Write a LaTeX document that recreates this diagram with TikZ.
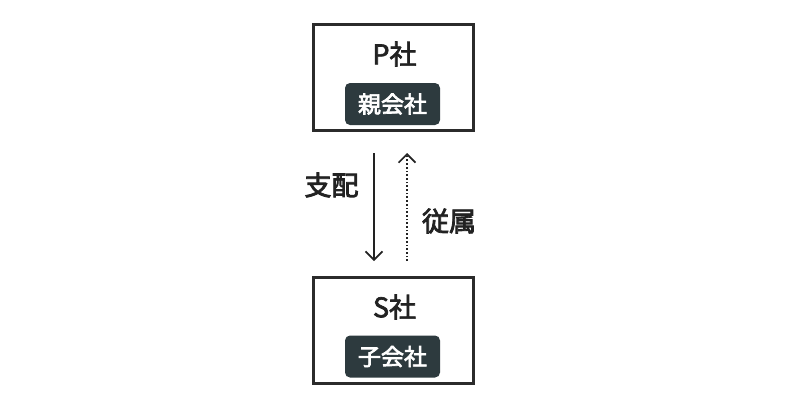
\documentclass[tikz,border=0pt]{standalone}
\usepackage{fontspec}
\setmainfont{Noto Sans CJK JP}
\newfontfamily\cjk{Noto Sans CJK JP}
\newfontfamily\cjkm{Noto Sans CJK JP}[FakeBold=3]
\newfontfamily\cjkt{Noto Sans CJK JP}[FakeBold=2.5]
\usetikzlibrary{arrows.meta}
\definecolor{boxline}{HTML}{2B2B2B}
\definecolor{badge}{HTML}{2D3A3E}
\definecolor{txt}{HTML}{222222}
\tikzset{
  company/.style={draw=boxline, line width=3pt, minimum width=160pt, minimum height=106pt, inner sep=0pt},
  title/.style={font=\cjkt\fontsize{27}{27}\selectfont, text=txt, inner sep=0pt},
  tag/.style={fill=badge, rounded corners=5pt, minimum width=95pt, minimum height=42pt, inner sep=0pt, text=white, font=\cjkm\fontsize{23}{23}\selectfont},
  lbl/.style={font=\cjkm\fontsize{27}{27}\selectfont, text=txt, inner sep=0pt},
  rel/.style={draw=txt, line width=1.7pt, -{Straight Barb[length=8.5pt,width=17pt,line width=1.7pt]}},
}
\begin{document}
\begin{tikzpicture}[x=1pt,y=-1pt]
\useasboundingbox (0,0) rectangle (800,413);
\node[company] (p) at (393.5,77.5) {};
\node[title] (pt) at (394.5,54) {P社};
\node[tag] (pb) at (392.5,104) {親会社};
\node[company] (s) at (393.5,330.5) {};
\node[title] (st) at (394.5,307) {S社};
\node[tag] (sb) at (392.5,356.5) {子会社};
\coordinate (a1) at (374,153);
\coordinate (a2) at (374,261);
\coordinate (b1) at (407,261);
\coordinate (b2) at (407,153);
\draw[rel] (a1) -- (a2);
\draw[rel, dotted] (b1) -- (b2);
\node[lbl] (dom) at (331.5,185) {支配};
\node[lbl] (sub) at (449,221) {従属};
\end{tikzpicture}
\end{document}
